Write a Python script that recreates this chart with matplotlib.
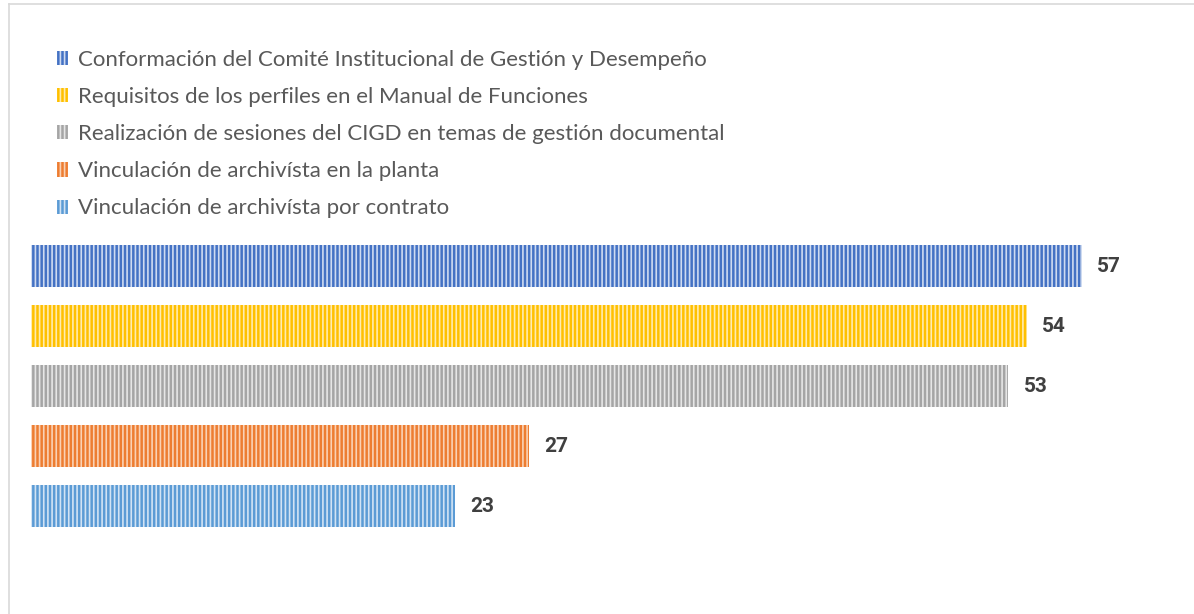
import matplotlib
matplotlib.use("Agg")
import matplotlib.pyplot as plt
from matplotlib.lines import Line2D

categories = [
    "Conformación del Comité Institucional de Gestión y Desempeño",
    "Requisitos de los perfiles en el Manual de Funciones",
    "Realización de sesiones del CIGD en temas de gestión documental",
    "Vinculación de archivísta en la planta",
    "Vinculación de archivísta por contrato",
]
values = [57, 54, 53, 27, 23]
colors = ["#4472C4", "#FFC000", "#A5A5A5", "#ED7D31", "#5B9BD5"]
stripe_colors = ["#CFDBF0", "#FFEBB0", "#E6E6E6", "#FAD2B5", "#D2E3F4"]

plt.rcParams['font.family'] = ['Lato', 'DejaVu Sans']
plt.rcParams['hatch.linewidth'] = 1.2

W, H = 1194, 614
fig = plt.figure(figsize=(W / 100, H / 100), dpi=100)

# axes: x from 31 to 1082 px (0..57), y slots 236..536 px
x0, x1 = 31, 1082
ytop, ybot = 236, 536
ax = fig.add_axes([x0 / W, 1 - ybot / H, (x1 - x0) / W, (ybot - ytop) / H])
ax.set_xlim(0, values[0])
ax.set_ylim(len(values) - 0.5, -0.5)
ax.axis('off')

handles = []
for i, (c, v, col, sc) in enumerate(zip(categories, values, colors, stripe_colors)):
    b = ax.barh(i, v, height=0.7, color=col, edgecolor=sc, hatch='||||',
                linewidth=0, label=c)
    handles.append(b)
    ax.annotate(str(v), xy=(v, i), xytext=(11, 0), textcoords='offset points',
                va='center', ha='left', fontsize=15, fontweight='bold',
                family=['Roboto', 'Liberation Sans', 'DejaVu Sans'],
                color='#404040')

leg = fig.legend(handles=handles, labels=categories, loc='upper left',
                 bbox_to_anchor=(57 / W, 1 - 50 / H), frameon=False,
                 fontsize=16, labelcolor='#595959', labelspacing=0.77,
                 handlelength=0.5, handleheight=0.6, handletextpad=0.45,
                 borderaxespad=0, borderpad=0)

# outer chart frame (partially visible)
fig.add_artist(Line2D([8.5 / W, 8.5 / W], [0, 1 - 3.5 / H], color='#D9D9D9', lw=1.2,
                      transform=fig.transFigure))
fig.add_artist(Line2D([8.5 / W, 1], [1 - 3.5 / H, 1 - 3.5 / H], color='#D9D9D9', lw=1.2,
                      transform=fig.transFigure))

fig.savefig("out.png", dpi=100)
